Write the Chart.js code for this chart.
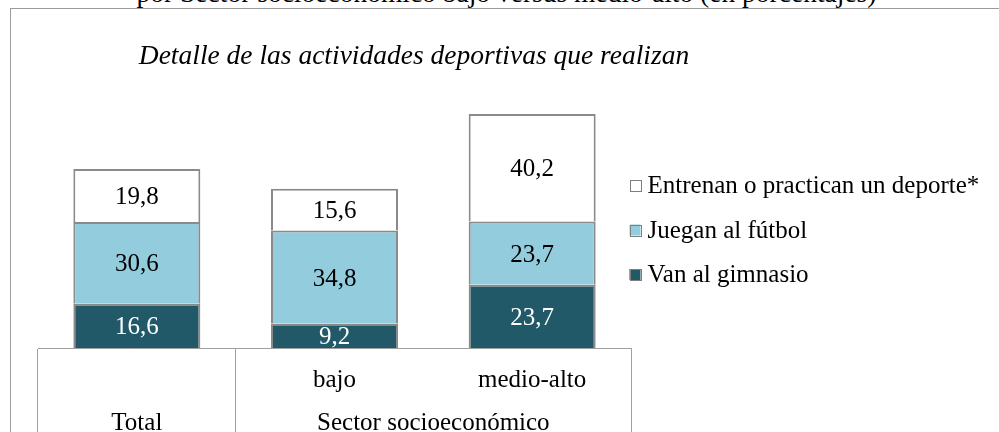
<!DOCTYPE html>
<html>
<head>
<meta charset="utf-8">
<script src="https://cdn.jsdelivr.net/npm/chart.js@4/dist/chart.umd.min.js"></script>
<style>
html,body{margin:0;padding:0;background:#fff;overflow:hidden;width:999px;height:432px;}
#wrap{position:relative;width:999px;height:432px;overflow:hidden;background:#fff;}
#frame{position:absolute;left:10px;top:8px;width:1200px;height:700px;border-left:1px solid #9b9b9b;border-top:1px solid #9b9b9b;}
#head{position:absolute;left:0;top:-21px;width:1013px;text-align:center;font:27.5px/1 'Liberation Serif','Times New Roman',serif;white-space:nowrap;color:#000;}
canvas{position:absolute;left:0;top:0;}
</style>
</head>
<body>
<div id="wrap">
  <div id="frame"></div>
  <div id="head">por Sector socioeconómico bajo versus medio-alto (en porcentajes)</div>
  <canvas id="c" width="999" height="432"></canvas>
</div>
<script>
// ---- data ----
const categories = ['Total', 'bajo', 'medio-alto'];
const topRowLabels = ['', 'bajo', 'medio-alto'];
const bottomRowLabels = ['Total', '', ''];
const groupLabel = 'Sector socioeconómico';
const seriesNames = ['Van al gimnasio', 'Juegan al fútbol', 'Entrenan o practican un deporte*'];
const gimnasio = [16.6, 9.2, 23.7];
const futbol = [30.6, 34.8, 23.7];
const entrenan = [19.8, 15.6, 40.2];
const titleText = 'Detalle de las actividades deportivas que realizan';

// ---- style ----
const FONT_FAMILY = "'Liberation Serif', 'Times New Roman', serif";
const FS = 25;
const LH = 1.728;
const TICK_LEN = 84;
const TICK_PAD = -73.6;
const seriesColors = ['#215968', '#93CDDD', '#FFFFFF'];
const labelColors = ['#FFFFFF', '#000000', '#000000'];
const BORDER = '#8a8a8a';
const GRID = '#a0a0a0';

Chart.defaults.font.family = FONT_FAMILY;
Chart.defaults.color = '#000';

const valueLabels = {
  id: 'valueLabels',
  afterDatasetsDraw(chart) {
    const ctx = chart.ctx;
    ctx.save();
    ctx.font = FS + 'px ' + FONT_FAMILY;
    ctx.textAlign = 'center';
    ctx.textBaseline = 'middle';
    chart.data.datasets.forEach((ds, di) => {
      const meta = chart.getDatasetMeta(di);
      meta.data.forEach((bar, i) => {
        const v = ds.data[i];
        const p = bar.getProps(['x', 'y', 'base'], true);
        ctx.fillStyle = labelColors[di];
        ctx.fillText(v.toFixed(1).replace('.', ','), p.x, (p.y + p.base) / 2 + 2);
      });
    });
    ctx.restore();
  }
};

const tableAndLegend = {
  id: 'tableAndLegend',
  afterDraw(chart) {
    const ctx = chart.ctx;
    const sx = chart.scales.x;
    ctx.save();
    const lh = FS * LH;
    const row1 = sx.top + TICK_LEN + TICK_PAD + lh / 2;
    const row2 = row1 + lh;
    ctx.font = FS + 'px ' + FONT_FAMILY;
    ctx.textAlign = 'center';
    ctx.textBaseline = 'middle';
    ctx.fillStyle = '#000';
    const gx = (sx.getPixelForValue(1) + sx.getPixelForValue(2)) / 2;
    ctx.fillText(groupLabel, gx, row2);
    const ca = chart.chartArea;
    const lx = ca.right - 1.5;
    const cy = (ca.top + ca.bottom) / 2 + 15.5;
    const step = 44.5;
    const n = chart.data.datasets.length;
    ctx.textAlign = 'left';
    for (let k = 0; k < n; k++) {
      const di = n - 1 - k;
      const ds = chart.data.datasets[di];
      const y = cy + (k - (n - 1) / 2) * step;
      ctx.fillStyle = ds.backgroundColor;
      ctx.fillRect(lx, y - 5.5, 11, 11);
      ctx.strokeStyle = '#7f7f7f';
      ctx.lineWidth = 1;
      ctx.strokeRect(Math.round(lx) + 0.5, Math.round(y - 5.5) + 0.5, 11, 11);
      ctx.fillStyle = '#000';
      ctx.fillText(ds.label, lx + 18, y + 1);
    }
    ctx.restore();
  }
};

new Chart(document.getElementById('c'), {
  type: 'bar',
  data: {
    labels: categories,
    datasets: [
      { label: seriesNames[0], data: gimnasio, backgroundColor: seriesColors[0] },
      { label: seriesNames[1], data: futbol, backgroundColor: seriesColors[1] },
      { label: seriesNames[2], data: entrenan, backgroundColor: seriesColors[2] }
    ]
  },
  options: {
    responsive: false,
    animation: false,
    devicePixelRatio: 1,
    layout: { padding: { left: 38, right: 209, top: 0, bottom: 0 } },
    datasets: {
      bar: {
        barPercentage: 0.6425,
        categoryPercentage: 1,
        borderColor: BORDER,
        borderWidth: 2
      }
    },
    plugins: {
      legend: { display: false },
      tooltip: { enabled: false },
      title: {
        display: true,
        text: titleText,
        align: 'center',
        color: '#000',
        font: { family: FONT_FAMILY, size: 27.5, style: 'italic', weight: 'normal', lineHeight: 1.2 },
        padding: { top: 40.5, bottom: 7.5 }
      }
    },
    scales: {
      x: {
        stacked: true,
        offset: true,
        grid: {
          display: true,
          offset: true,
          drawOnChartArea: false,
          drawTicks: true,
          tickLength: TICK_LEN,
          lineWidth: 1,
          color: (c) => (c.index === 2 ? 'rgba(0,0,0,0)' : GRID)
        },
        border: { display: true, color: GRID, width: 1 },
        ticks: {
          padding: TICK_PAD,
          maxRotation: 0,
          autoSkip: false,
          color: '#000',
          font: { family: FONT_FAMILY, size: FS, lineHeight: LH },
          callback: (v, i) => [topRowLabels[i], bottomRowLabels[i]]
        },
        afterFit: (s) => { s.height = 84; }
      },
      y: {
        stacked: true,
        position: 'right',
        min: 0,
        max: 100,
        display: true,
        grid: { display: false },
        border: { display: false },
        ticks: { display: false },
        afterFit: (s) => { s.width = 159; }
      }
    }
  },
  plugins: [valueLabels, tableAndLegend]
});
</script>
</body>
</html>
